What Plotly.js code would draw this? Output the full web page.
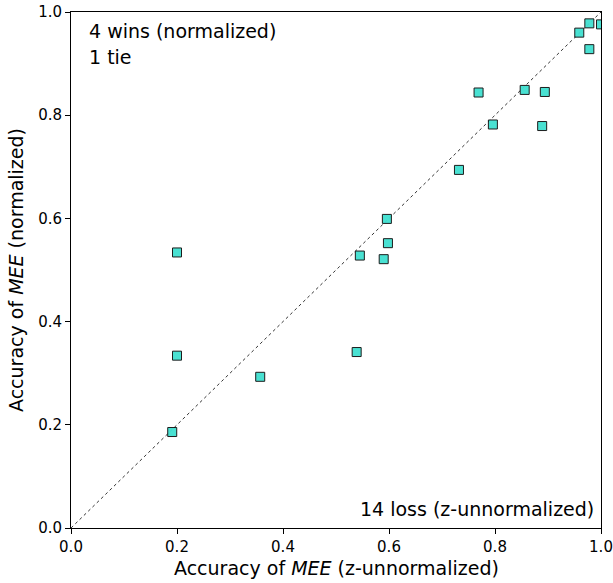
<!DOCTYPE html>
<html>
<head>
<meta charset="utf-8">
<script src="https://cdn.plot.ly/plotly-3.0.1.min.js"></script>
<style>html,body{margin:0;padding:0;background:#fff;}#chart{width:613px;height:583px;}</style>
</head>
<body>
<div id="chart"></div>
<script>
// accuracy of MEE (z-unnormalized) on x, (normalized) on y
const accUnnormalized = [0.191, 0.200, 0.200, 0.357, 0.539, 0.545, 0.590, 0.596, 0.598, 0.732, 0.769, 0.796, 0.856, 0.894, 0.889, 0.959, 0.978, 0.978, 1.000];
const accNormalized   = [0.186, 0.534, 0.334, 0.293, 0.341, 0.528, 0.521, 0.599, 0.552, 0.694, 0.844, 0.782, 0.849, 0.845, 0.779, 0.960, 0.978, 0.928, 0.976];
const diagX = [0, 1];
const diagY = [0, 1];
const tickVals = [0.0, 0.2, 0.4, 0.6, 0.8, 1.0];
const tickText = ["0.0", "0.2", "0.4", "0.6", "0.8", "1.0"];
const xTitle = "Accuracy of <i>MEE</i> (z-unnormalized)";
const yTitle = "Accuracy of <i>MEE</i> (normalized)";
const winsText = "4 wins (normalized)";
const tieText = "1 tie";
const lossText = "14 loss (z-unnormalized)";

const font = "DejaVu Sans, sans-serif";

const traces = [
  {
    x: diagX, y: diagY, mode: "lines", type: "scatter",
    line: {color: "#000", width: 0.8, dash: "dot"},
    hoverinfo: "skip", showlegend: false
  },
  {
    x: accUnnormalized, y: accNormalized, mode: "markers", type: "scatter",
    marker: {symbol: "square", size: 9, color: "#40E0D0", opacity: 0.95,
             line: {color: "#111", width: 1}},
    showlegend: false, cliponaxis: true
  }
];

const axisCommon = {
  range: [0, 1], tickvals: tickVals, ticktext: tickText,
  showgrid: false, zeroline: false, showline: true, mirror: true,
  linecolor: "#000", linewidth: 1, ticks: "outside", ticklen: 5, tickwidth: 1,
  tickcolor: "#000", tickfont: {family: font, size: 15, color: "#000"},
  automargin: false
};

const layout = {
  width: 613, height: 583,
  margin: {l: 71, r: 12, t: 12, b: 55},
  paper_bgcolor: "#fff", plot_bgcolor: "#fff",
  font: {family: font, color: "#000"},
  xaxis: Object.assign({}, axisCommon),
  yaxis: Object.assign({}, axisCommon, {
    title: {text: yTitle, font: {family: font, size: 19, color: "#000"}}
  }),
  annotations: [
    {text: xTitle, x: 0.5, y: -0.0775, xref: "paper", yref: "paper", xanchor: "center", yanchor: "middle", showarrow: false, font: {family: font, size: 19, color: "#000"}},
    {text: winsText, x: 0.03, y: 0.963, xref: "paper", yref: "paper", xanchor: "left", yanchor: "middle", showarrow: false, font: {family: font, size: 19, color: "#000"}},
    {text: tieText, x: 0.03, y: 0.913, xref: "paper", yref: "paper", xanchor: "left", yanchor: "middle", showarrow: false, font: {family: font, size: 19, color: "#000"}},
    {text: lossText, x: 0.99, y: 0.037, xref: "paper", yref: "paper", xanchor: "right", yanchor: "middle", showarrow: false, font: {family: font, size: 19, color: "#000"}}
  ]
};

Plotly.newPlot("chart", traces, layout, {displayModeBar: false, staticPlot: true});
</script>
</body>
</html>
